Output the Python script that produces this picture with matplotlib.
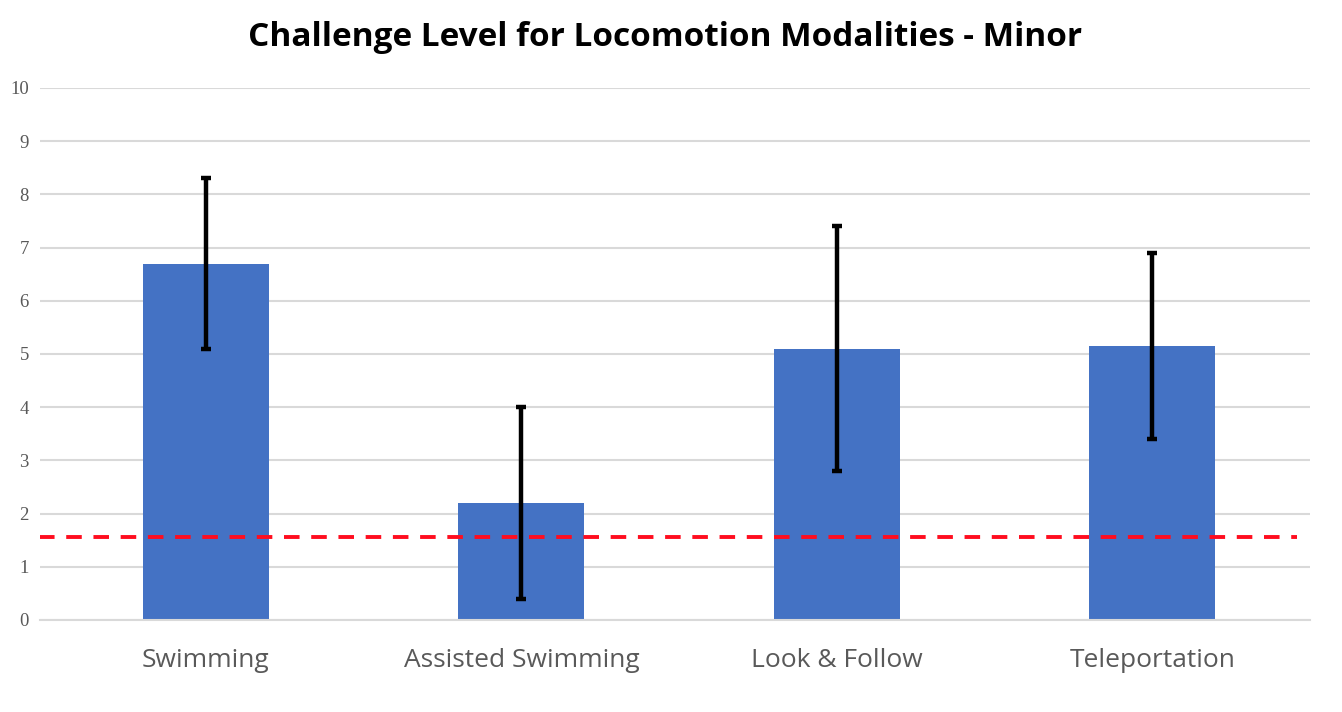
import numpy as np
import matplotlib
matplotlib.use("Agg")
import matplotlib.pyplot as plt

# Data
categories = ["Swimming", "Assisted Swimming", "Look & Follow", "Teleportation"]
means = [6.7, 2.2, 5.1, 5.15]
errors = [1.6, 1.8, 2.3, 1.75]
threshold = 1.56
yticks = list(range(0, 11))

fig = plt.figure(figsize=(13.42, 7.12), dpi=100)
ax = fig.add_axes([40 / 1342, 92 / 712, 1270 / 1342, 532 / 712])

x = np.arange(len(categories))
ax.bar(x, means, width=0.4, color="#4472C4", zorder=2)
ax.errorbar(x, means, yerr=errors, fmt="none", ecolor="black",
            elinewidth=3.2, capsize=3.6, capthick=3.2, zorder=4)
ax.plot([-0.53, 3.46], [threshold, threshold], color="#FF0D1F",
        linewidth=2.8, dashes=(4, 3), zorder=3)

ax.set_xlim(-0.526, 3.5)
ax.set_ylim(0, 10)
ax.set_yticks(yticks)
ax.set_yticklabels([str(t) for t in yticks], family="Liberation Serif",
                   fontsize=13.5, color="#595959")
ax.set_xticks(x)
ax.set_xticklabels(categories, family="Open Sans", fontsize=19, color="#595959")
ax.tick_params(axis="both", length=0)
ax.tick_params(axis="x", pad=20)
ax.tick_params(axis="y", pad=8)

ax.grid(axis="y", color="#D9D9D9", linewidth=1.5, zorder=0)
ax.set_axisbelow(True)
for side in ["left", "right", "top"]:
    ax.spines[side].set_visible(False)
ax.spines["bottom"].set_color("#D9D9D9")
ax.spines["bottom"].set_linewidth(1.5)

fig.text(665 / 1342, 1 - 38 / 712, "Challenge Level for Locomotion Modalities - Minor",
         ha="center", va="center", family="Open Sans", fontweight="bold",
         fontsize=24, color="black")

fig.savefig("out.png", dpi=100)
